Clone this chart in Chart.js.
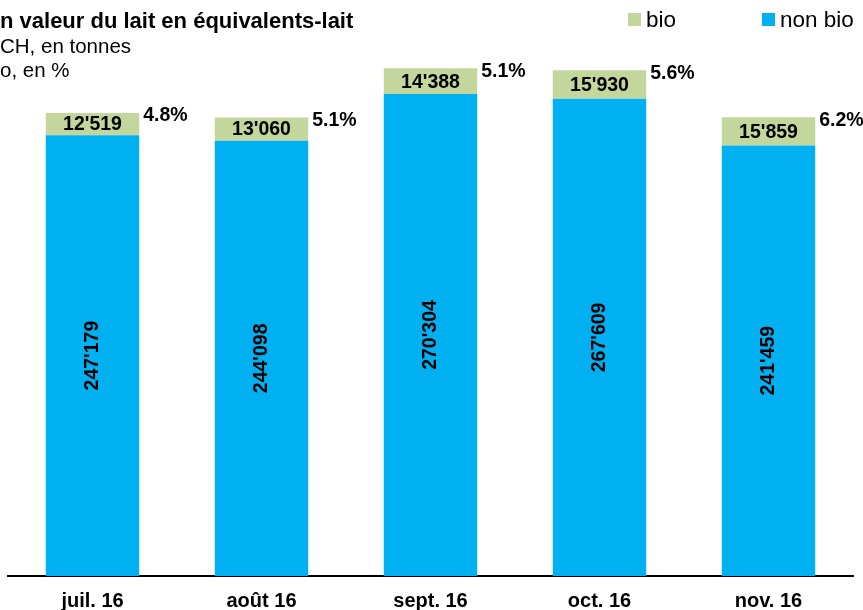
<!DOCTYPE html>
<html lang="fr">
<head>
<meta charset="utf-8">
<title>Lait bio / non bio</title>
<script src="https://cdn.jsdelivr.net/npm/chart.js@4.4.1/dist/chart.umd.min.js"></script>
<style>
  html, body { margin: 0; padding: 0; background: #fff; }
  #wrap { position: relative; width: 863px; height: 610px; }
</style>
</head>
<body>
<div id="wrap"><canvas id="milkChart" width="863" height="610"></canvas></div>
<script>
// Monthly volumes, tonnes
const months = ['juil. 16', 'août 16', 'sept. 16', 'oct. 16', 'nov. 16'];
const nonBio = [247179, 244098, 270304, 267609, 241459];
const bio = [12519, 13060, 14388, 15930, 15859];
const bioShare = ['4.8%', '5.1%', '5.1%', '5.6%', '6.2%'];

const titleLines = [
    { text: 'n valeur du lait en équivalents-lait', bold: true, y: 28 },
    { text: 'CH, en tonnes', bold: false, y: 53 },
    { text: 'o, en %', bold: false, y: 77 }
];

const BLUE = '#00B0F0';
const GREEN = '#C3D69B';
const FONT = '"Liberation Sans", Arial, sans-serif';

function fmt(n) {
    return String(n).replace(/\B(?=(\d{3})+(?!\d))/g, "'");
}

// value labels inside the bars + share of bio next to each stack
const barLabels = {
    id: 'barLabels',
    afterDatasetsDraw(chart) {
        const ctx = chart.ctx;
        const nbMeta = chart.getDatasetMeta(0);
        const bioMeta = chart.getDatasetMeta(1);
        ctx.save();
        ctx.fillStyle = '#000';
        ctx.font = 'bold 19.5px ' + FONT;

        nbMeta.data.forEach((bar, i) => {
            const cy = (bar.y + bar.base) / 2;
            ctx.save();
            ctx.translate(bar.x, cy);
            ctx.rotate(-Math.PI / 2);
            ctx.textAlign = 'center';
            ctx.textBaseline = 'middle';
            ctx.fillText(fmt(nonBio[i]), 0, 0);
            ctx.restore();
        });

        bioMeta.data.forEach((bar, i) => {
            ctx.textAlign = 'center';
            ctx.textBaseline = 'middle';
            ctx.fillText(fmt(bio[i]), bar.x, (bar.y + bar.base) / 2 + 1);
            ctx.textAlign = 'left';
            ctx.fillText(bioShare[i], bar.x + bar.width / 2 + 4, bar.y + 3);
        });
        ctx.restore();
    }
};

// cropped heading and the legend at the top
const header = {
    id: 'header',
    afterDraw(chart) {
        const ctx = chart.ctx;
        ctx.save();
        ctx.fillStyle = '#000';
        ctx.textAlign = 'left';
        ctx.textBaseline = 'alphabetic';
        titleLines.forEach(l => {
            ctx.font = (l.bold ? 'bold 22px ' : '20.5px ') + FONT;
            ctx.fillText(l.text, 0, l.y);
        });

        const items = [
            { label: 'bio', color: GREEN, x: 628 },
            { label: 'non bio', color: BLUE, x: 762 }
        ];
        ctx.font = '22.5px ' + FONT;
        items.forEach(it => {
            ctx.fillStyle = it.color;
            ctx.fillRect(it.x, 13, 13, 13);
            ctx.fillStyle = '#000';
            ctx.fillText(it.label, it.x + 18, 27);
        });
        ctx.restore();
    }
};

const ctx = document.getElementById('milkChart').getContext('2d');
const milkChart = new Chart(ctx, {
    type: 'bar',
    data: {
        labels: months,
        datasets: [
            {
                label: 'non bio',
                data: nonBio,
                backgroundColor: BLUE,
                borderWidth: 0,
                categoryPercentage: 1,
                barPercentage: 0.553
            },
            {
                label: 'bio',
                data: bio,
                backgroundColor: GREEN,
                borderWidth: 0,
                categoryPercentage: 1,
                barPercentage: 0.553
            }
        ]
    },
    options: {
        responsive: false,
        animation: false,
        devicePixelRatio: 1,
        // axis labels sit close to the bottom edge
        layout: { padding: { left: 8, right: 10, top: 0, bottom: -16 } },
        plugins: {
            legend: { display: false },
            tooltip: { enabled: false }
        },
        scales: {
            x: {
                stacked: true,
                grid: { display: false, drawTicks: false },
                border: { display: true, color: '#000', width: 2 },
                ticks: {
                    color: '#000',
                    font: { family: FONT, size: 20, weight: 'bold' },
                    padding: 13,
                    maxRotation: 0,
                    minRotation: 0,
                    autoSkip: false
                }
            },
            y: {
                stacked: true,
                display: false,
                min: 0,
                max: 323000
            }
        }
    },
    plugins: [barLabels, header]
});
</script>
</body>
</html>
